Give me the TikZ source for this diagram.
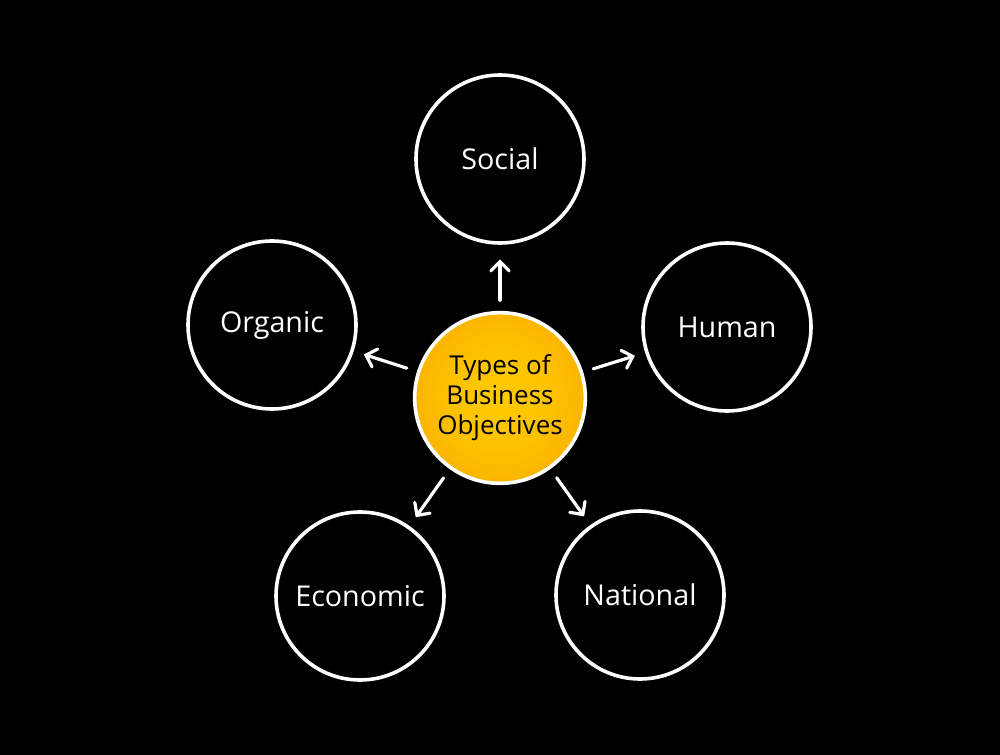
\documentclass[tikz,border=0pt]{standalone}
\usepackage{fontspec}
\setmainfont{Open Sans}
\usetikzlibrary{arrows.meta}
\definecolor{ycore}{RGB}{255,202,0}
\definecolor{orim}{RGB}{245,148,0}
\pgfdeclareradialshading{orb}{\pgfpoint{0bp}{0bp}}{color(0bp)=(ycore); color(15bp)=(ycore!85!orim); color(50bp)=(orim)}
\tikzset{
  outer/.style={circle, draw=white, line width=2.7pt, minimum size=126pt, inner sep=0pt,
    text=white, font=\fontsize{21.5}{25}\selectfont},
  hub/.style={circle, draw=white, line width=2.7pt, minimum size=128pt, inner sep=0pt,
    shading=orb, text=black, align=center, font=\fontsize{19.5}{22.5}\selectfont},
  arr/.style={draw=white, line width=2.4pt, line cap=round,
    -{Straight Barb[length=7pt,width=14pt,line cap=round]}, shorten <=8pt, shorten >=8pt}
}
\begin{document}
\begin{tikzpicture}[x=0.75pt,y=-0.75pt]
\fill[black] (0,0) rectangle (1000,755);
\useasboundingbox (0,0) rectangle (1000,755);
\node[hub] (c) at (500,398) {Types of\\Business\\Objectives};
\node[outer] (s) at (500,159) {Social};
\node[outer] (h) at (727,327) {Human};
\node[outer] (o) at (272,325) {Organic};
\node[outer] (e) at (360,596) {Economic};
\node[outer] (n) at (640,595) {National};
\draw[arr, shorten >=11pt] (c) -- (s);
\draw[arr] (c) -- (h);
\draw[arr] (c) -- (o);
\draw[arr] (c) -- (e);
\draw[arr] (c) -- (n);
\end{tikzpicture}
\end{document}
